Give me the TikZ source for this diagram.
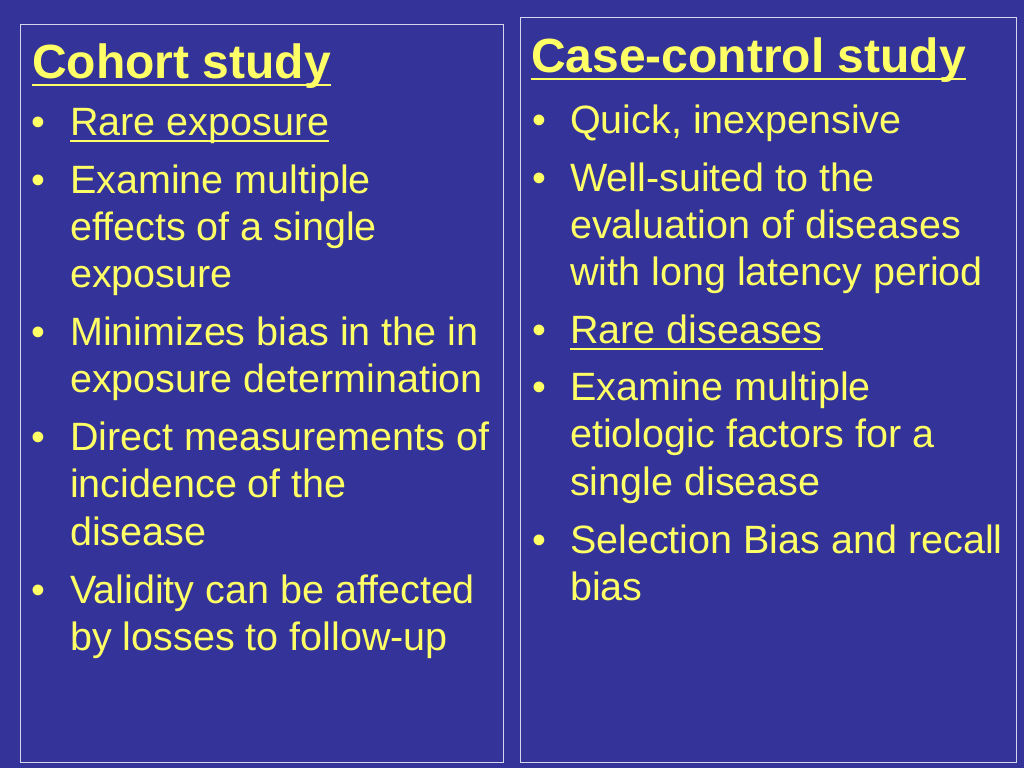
\documentclass[tikz,border=0pt]{standalone}
\usepackage{fontspec}
\setmainfont{Liberation Sans}
\definecolor{bg}{HTML}{333399}
\definecolor{yl}{HTML}{FFFF66}
\begin{document}
\begin{tikzpicture}[x=1pt,y=-1pt,
  tx/.style={anchor=base west,inner sep=0pt,text=yl,font=\fontsize{39.5}{44}\selectfont},
  tt/.style={anchor=base west,inner sep=0pt,text=yl,font=\fontsize{48}{54}\selectfont\bfseries},
  ul/.style={draw=yl,line width=2pt},
  frame/.style={draw=white!80!bg,line width=1pt}]
\fill[bg] (0,0) rectangle (1024,768);
\useasboundingbox (0,0) rectangle (1024,768);
\draw[frame] (20,25) rectangle (503,762);
\draw[frame] (520,18) rectangle (1016,762);
% left
\node[tt] (lt) at (32,78) {Cohort study};
\draw[ul] ([yshift=-7]lt.base west) -- ([yshift=-7]lt.base east);
\foreach \y in {135,193,345,450,603} \node[tx] at (31,\y) {•};
\node[tx] (l1) at (70,135) {Rare exposure};
\draw[ul] ([yshift=-6]l1.base west) -- ([yshift=-6]l1.base east);
\node[tx] (l2) at (70,193) {Examine multiple};
\node[tx] (l3) at (70,240) {effects of a single};
\node[tx] (l4) at (70,287) {exposure};
\node[tx] (l5) at (70,345) {Minimizes bias in the in};
\node[tx] (l6) at (70,392) {exposure determination};
\node[tx] (l7) at (70,450) {Direct measurements of};
\node[tx] (l8) at (70,497) {incidence of the};
\node[tx] (l9) at (70,545) {disease};
\node[tx] (l10) at (70,603) {Validity can be affected};
\node[tx] (l11) at (70,650) {by losses to follow-up};
% right
\node[tt] (rt) at (531,72) {Case-control study};
\draw[ul] ([yshift=-7]rt.base west) -- ([yshift=-7]rt.base east);
\foreach \y in {133,191,343,400,553} \node[tx] at (532,\y) {•};
\node[tx] (r1) at (570,133) {Quick, inexpensive};
\node[tx] (r2) at (570,191) {Well-suited to the};
\node[tx] (r3) at (570,238) {evaluation of diseases};
\node[tx] (r4) at (570,285) {with long latency period};
\node[tx] (r5) at (570,343) {Rare diseases};
\draw[ul] ([yshift=-6]r5.base west) -- ([yshift=-6]r5.base east);
\node[tx] (r6) at (570,400) {Examine multiple};
\node[tx] (r7) at (570,447) {etiologic factors for a};
\node[tx] (r8) at (570,495) {single disease};
\node[tx] (r9) at (570,553) {Selection Bias and recall};
\node[tx] (r10) at (570,600) {bias};
\end{tikzpicture}
\end{document}
